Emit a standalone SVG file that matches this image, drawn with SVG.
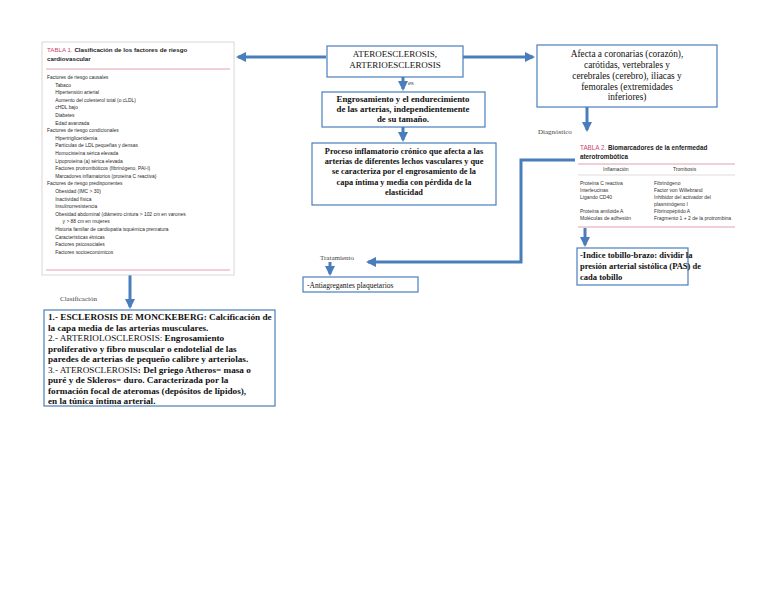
<svg xmlns="http://www.w3.org/2000/svg" width="768" height="594" viewBox="0 0 768 594">
<defs>
<marker id="ah" viewBox="0 0 10 10" refX="8" refY="5" markerWidth="3.4" markerHeight="3.4" orient="auto" markerUnits="strokeWidth">
<path d="M0,0 L10,5 L0,10 Z" fill="#4a7ebb"/>
</marker>
<style>
.con{fill:none;stroke:#4a7ebb;stroke-width:3;marker-end:url(#ah)}
.box{fill:#fff;stroke:#4a7ebb;stroke-width:1.2}
.s{font-family:"Liberation Serif",serif;fill:#111}
.b{font-weight:bold}
.lbl{font-family:"Liberation Serif",serif;font-size:7px;fill:#444}
.t1{font-family:"Liberation Sans",Arial,sans-serif;font-size:6px;fill:#2a2a2a}
.t2{font-family:"Liberation Sans",Arial,sans-serif;font-size:5px;fill:#333}
.tt{font-family:"Liberation Sans",Arial,sans-serif;font-weight:bold;fill:#222}
.red{fill:#c8466e;font-weight:normal}
.pk{stroke:#d98a9c;stroke-width:0.8}
</style>
</defs>
<rect width="768" height="594" fill="#fff"/>

<g id="connectors">
<path class="con" d="M326,57 H238"/>
<path class="con" d="M463,57 H533"/>
<path class="con" d="M403,77 V89"/>
<path class="con" d="M403,127 V140"/>
<path class="con" d="M130,275 V307"/>
<path class="con" d="M587,107 V130"/>
<path class="con" d="M585,228 V245"/>
<path class="con" d="M575,160 H521 V262 H368"/>
<path class="con" d="M330,262 V274"/>
<text class="lbl" x="408" y="85" font-size="5.5">es</text>
<text class="lbl" x="60" y="301">Clasificación</text>
<text class="lbl" x="538" y="134">Diagnóstico</text>
<text class="lbl" x="320" y="260" font-size="7.5">Tratamiento</text>
</g>

<g id="tabla1">
<rect x="42" y="42" width="192" height="233" fill="#fff" stroke="#d8d8d8" stroke-width="1"/>
<text class="tt" x="47" y="52" font-size="6.2"><tspan class="red">TABLA 1. </tspan>Clasificación de los factores de riesgo</text>
<text class="tt" x="47" y="61" font-size="6.2">cardiovascular</text>
<line class="pk" x1="46" y1="69" x2="230" y2="69"/>
<g transform="translate(47,0) scale(0.82,1) translate(-47,0)">
<text class="t1" x="47" y="79">Factores de riesgo causales</text>
<text class="t1" x="57" y="86.6">Tabaco</text>
<text class="t1" x="57" y="94.2">Hipertensión arterial</text>
<text class="t1" x="57" y="101.8">Aumento del colesterol total (o cLDL)</text>
<text class="t1" x="57" y="109.4">cHDL bajo</text>
<text class="t1" x="57" y="117">Diabetes</text>
<text class="t1" x="57" y="124.6">Edad avanzada</text>
<text class="t1" x="47" y="132.2">Factores de riesgo condicionales</text>
<text class="t1" x="57" y="139.8">Hipertrigliceridemia</text>
<text class="t1" x="57" y="147.4">Partículas de LDL pequeñas y densas</text>
<text class="t1" x="57" y="155">Homocisteína sérica elevada</text>
<text class="t1" x="57" y="162.6">Lipoproteína (a) sérica elevada</text>
<text class="t1" x="57" y="170.2">Factores protrombóticos (fibrinógeno, PAI-I)</text>
<text class="t1" x="57" y="177.8">Marcadores inflamatorios (proteína C reactiva)</text>
<text class="t1" x="47" y="185.4">Factores de riesgo predisponentes</text>
<text class="t1" x="57" y="193">Obesidad (IMC &gt; 30)</text>
<text class="t1" x="57" y="200.6">Inactividad física</text>
<text class="t1" x="57" y="208.2">Insulinorresistencia</text>
<text class="t1" x="57" y="215.8">Obesidad abdominal (diámetro cintura &gt; 102 cm en varones</text>
<text class="t1" x="66" y="223.4">y &gt; 88 cm en mujeres</text>
<text class="t1" x="57" y="231">Historia familiar de cardiopatía isquémica prematura</text>
<text class="t1" x="57" y="238.6">Características étnicas</text>
<text class="t1" x="57" y="246.2">Factores psicosociales</text>
<text class="t1" x="57" y="253.8">Factores socioeconómicos</text>
</g>
<line class="pk" x1="46" y1="270" x2="230" y2="270"/>
</g>

<g id="ateroesclerosis">
<rect class="box" x="327" y="46" width="136" height="31"/>
<text class="s" x="395" y="57" font-size="9" text-anchor="middle">ATEROESCLEROSIS,</text>
<text class="s" x="395" y="68" font-size="9" text-anchor="middle">ARTERIOESCLEROSIS</text>
</g>

<g id="engrosamiento">
<rect class="box" x="322" y="92" width="163" height="35"/>
<text class="s b" x="403" y="102" font-size="8.8" text-anchor="middle">Engrosamiento y el endurecimiento</text>
<text class="s b" x="403" y="112" font-size="8.8" text-anchor="middle">de las arterias, independientemente</text>
<text class="s b" x="403" y="122" font-size="8.8" text-anchor="middle">de su tamaño.</text>
</g>

<g id="proceso">
<rect class="box" x="312" y="143" width="184" height="62"/>
<text class="s b" x="404" y="154" font-size="8.3" text-anchor="middle">Proceso inflamatorio crónico que afecta a las</text>
<text class="s b" x="404" y="164" font-size="8.3" text-anchor="middle">arterias de diferentes lechos vasculares y que</text>
<text class="s b" x="404" y="174" font-size="8.3" text-anchor="middle">se caracteriza por el engrosamiento de la</text>
<text class="s b" x="404" y="185" font-size="8.3" text-anchor="middle">capa íntima y media con pérdida de la</text>
<text class="s b" x="404" y="195" font-size="8.3" text-anchor="middle">elasticidad</text>
</g>

<g id="afecta">
<rect class="box" x="537" y="45" width="180" height="62"/>
<text class="s" x="627" y="57" font-size="9.3" text-anchor="middle">Afecta a coronarias (corazón),</text>
<text class="s" x="627" y="68" font-size="9.3" text-anchor="middle">carótidas, vertebrales y</text>
<text class="s" x="627" y="79" font-size="9.3" text-anchor="middle">cerebrales (cerebro), iliacas y</text>
<text class="s" x="627" y="90" font-size="9.3" text-anchor="middle">femorales (extremidades</text>
<text class="s" x="627" y="100" font-size="9.3" text-anchor="middle">inferiores)</text>
</g>

<g id="tabla2">
<text class="tt" x="580" y="150" font-size="6.3"><tspan class="red">TABLA 2. </tspan>Biomarcadores de la enfermedad</text>
<text class="tt" x="580" y="159" font-size="6.3">aterotrombótica</text>
<line class="pk" x1="578" y1="164" x2="735" y2="164"/>
<text class="t2" x="603" y="171" font-size="4.5">Inflamación</text>
<text class="t2" x="673" y="171" font-size="4.5">Trombosis</text>
<line x1="578" y1="175" x2="735" y2="175" stroke="#bbb" stroke-width="0.5"/>
<text class="t2" x="580" y="185">Proteína C reactiva</text>
<text class="t2" x="654" y="185">Fibrinógeno</text>
<text class="t2" x="580" y="192">Interleucinas</text>
<text class="t2" x="654" y="192">Factor von Willebrand</text>
<text class="t2" x="580" y="199">Ligando CD40</text>
<text class="t2" x="654" y="199">Inhibidor del activador del</text>
<text class="t2" x="654" y="206">plasminógeno I</text>
<text class="t2" x="580" y="213">Proteína amiloide A</text>
<text class="t2" x="654" y="213">Fibrinopéptido A</text>
<text class="t2" x="580" y="220">Moléculas de adhesión</text>
<text class="t2" x="654" y="220">Fragmento 1 + 2 de la protrombina</text>
<line class="pk" x1="578" y1="227" x2="735" y2="227"/>
</g>

<g id="indice">
<rect class="box" x="577" y="248" width="111" height="37"/>
<text class="s b" x="580" y="258" font-size="8.5">-Indice tobillo-brazo: dividir la</text>
<text class="s b" x="580" y="269" font-size="8.5">presión arterial sistólica (PAS) de</text>
<text class="s b" x="580" y="280" font-size="8.5">cada tobillo</text>
</g>

<g id="antiagregantes">
<rect class="box" x="303" y="277" width="115" height="15"/>
<text class="s" x="307" y="287.5" font-size="7.5" fill="#333">-Antiagregantes plaquetarios</text>
</g>

<g id="clasificacion">
<rect class="box" x="44" y="310" width="231" height="96"/>
<text class="s b" x="48" y="320" font-size="9.2">1.- ESCLEROSIS DE MONCKEBERG: Calcificación de</text>
<text class="s b" x="48" y="330.5" font-size="9.2">la capa media de las arterias musculares.</text>
<text class="s b" x="48" y="341" font-size="9.2"><tspan font-weight="normal">2.- ARTERIOLOSCLEROSIS:</tspan> Engrosamiento</text>
<text class="s b" x="48" y="351.5" font-size="9.2">proliferativo y fibro muscular o endotelial de las</text>
<text class="s b" x="48" y="362" font-size="9.2">paredes de arterias de pequeño calibre y arteriolas.</text>
<text class="s b" x="48" y="372.5" font-size="9.2"><tspan font-weight="normal">3.- ATEROSCLEROSIS</tspan>: Del griego Atheros= masa o</text>
<text class="s b" x="48" y="383" font-size="9.2">puré y de Skleros= duro. Caracterizada por la</text>
<text class="s b" x="48" y="393.5" font-size="9.2">formación focal de ateromas (depósitos de lípidos),</text>
<text class="s b" x="48" y="404" font-size="9.2">en la túnica íntima arterial.</text>
</g>
</svg>
